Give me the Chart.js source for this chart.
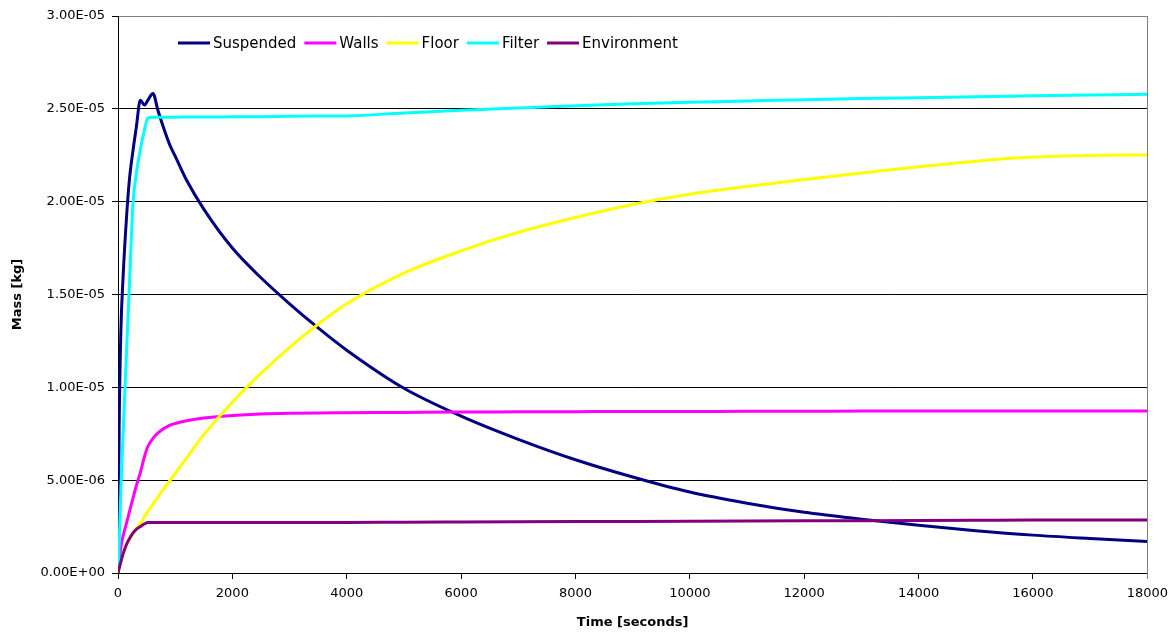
<!DOCTYPE html>
<html>
<head>
<meta charset="utf-8">
<script src="https://cdn.jsdelivr.net/npm/chart.js@4/dist/chart.umd.min.js"></script>
<style>
  html, body { margin: 0; padding: 0; background: #fff; }
  #wrap { width: 1175px; height: 634px; }
</style>
</head>
<body>
<div id="wrap"><canvas id="c" width="1175" height="634"></canvas></div>
<script>
// Time samples [s]
const times = [0, 20, 50, 90, 150, 200, 260, 320, 390, 466, 520, 611, 700, 900, 1000, 1200, 1500,
  2000, 2500, 3000, 3500, 4000, 5000, 6000, 7000, 8000, 9000, 10000, 11000, 12000,
  13000, 14000, 15000, 16000, 17000, 18000];

// Mass per compartment, in micrograms (1e-6 kg)
const suspended = [0, 7.8, 13.0, 16.0, 19.2, 21.2, 22.7, 24.0, 25.46, 25.2, 25.45, 25.83, 24.9, 23.1, 22.45, 21.15, 19.6,
  17.5, 15.9, 14.5, 13.2, 12.0, 9.95, 8.45, 7.2, 6.1, 5.17, 4.36, 3.76, 3.27,
  2.9, 2.57, 2.28, 2.04, 1.86, 1.70];
const walls = [0, 0.55, 1.4, 2.0, 2.7, 3.3, 4.0, 4.7, 5.4, 6.3, 6.8, 7.25, 7.55, 7.95, 8.05, 8.2, 8.35,
  8.48, 8.56, 8.6, 8.62, 8.63, 8.65, 8.67, 8.68, 8.69, 8.7, 8.7, 8.71, 8.71,
  8.72, 8.72, 8.72, 8.73, 8.73, 8.73];
const floor = [0, 0.25, 0.6, 1.0, 1.5, 1.8, 2.1, 2.4, 2.65, 3.05, 3.3, 3.7, 4.1, 4.95, 5.37, 6.2, 7.45,
  9.2, 10.75, 12.15, 13.4, 14.5, 16.15, 17.35, 18.35, 19.15, 19.85, 20.4, 20.82, 21.2,
  21.55, 21.88, 22.18, 22.4, 22.49, 22.52];
const filter = [0, 1.5, 4.5, 7.5, 12.0, 15.5, 19.8, 21.5, 22.8, 23.9, 24.5, 24.55, 24.55, 24.55, 24.55, 24.56, 24.56,
  24.57, 24.58, 24.6, 24.61, 24.62, 24.78, 24.92, 25.05, 25.17, 25.27, 25.35, 25.42, 25.49,
  25.55, 25.6, 25.65, 25.7, 25.74, 25.78];
const environment = [0, 0.25, 0.6, 1.05, 1.55, 1.85, 2.15, 2.35, 2.5, 2.65, 2.72, 2.72, 2.72, 2.72, 2.72, 2.72, 2.72,
  2.72, 2.72, 2.72, 2.72, 2.72, 2.74, 2.75, 2.76, 2.77, 2.78, 2.79, 2.8, 2.81,
  2.82, 2.83, 2.84, 2.85, 2.85, 2.86];

const seriesNames = ['Suspended', 'Walls', 'Floor', 'Filter', 'Environment'];
const seriesColors = ['#000080', '#FF00FF', '#FFFF00', '#00FFFF', '#800080'];
const seriesValues = [suspended, walls, floor, filter, environment];

const xTickStep = 2000;
const yTickStep = 5e-6;
const UNIT = 1e-6;

const FONT = 'DejaVu Sans';

function sciLabel(v) {
  if (Math.abs(v) < 1e-12) return '0.00E+00';
  let exp = Math.floor(Math.log10(Math.abs(v)) + 1e-9);
  let mant = v / Math.pow(10, exp);
  if (Math.round(mant * 100) >= 1000) { mant /= 10; exp += 1; }
  const sign = exp < 0 ? '-' : '+';
  const e = String(Math.abs(exp)).padStart(2, '0');
  return mant.toFixed(2) + 'E' + sign + e;
}

// Legend drawn inside the plot area, one row
const insideLegend = {
  id: 'insideLegend',
  afterDatasetsDraw(chart) {
    const ctx = chart.ctx;
    ctx.save();
    ctx.font = '15px "' + FONT + '"';
    ctx.textBaseline = 'middle';
    ctx.textAlign = 'left';
    let x = 178;
    const y = 43;
    chart.data.datasets.forEach(ds => {
      ctx.strokeStyle = ds.borderColor;
      ctx.lineWidth = 3;
      ctx.beginPath();
      ctx.moveTo(x, y);
      ctx.lineTo(x + 32, y);
      ctx.stroke();
      x += 35;
      ctx.fillStyle = '#000';
      ctx.fillText(ds.label, x, y + 1);
      x += ctx.measureText(ds.label).width + 8;
    });
    ctx.restore();
  }
};

// Grey frame on the right edge of the plot
const plotFrame = {
  id: 'plotFrame',
  afterDraw(chart) {
    const {ctx, chartArea: a} = chart;
    ctx.save();
    ctx.strokeStyle = '#808080';
    ctx.lineWidth = 1;
    ctx.beginPath();
    ctx.moveTo(Math.round(a.right) + 0.5, a.top);
    ctx.lineTo(Math.round(a.right) + 0.5, a.bottom + 6);
    ctx.stroke();
    ctx.restore();
  }
};

const datasets = seriesNames.map((name, i) => ({
  label: name,
  data: times.map((t, k) => ({x: t, y: seriesValues[i][k] * UNIT})),
  borderColor: seriesColors[i],
  backgroundColor: seriesColors[i],
  borderWidth: 3,
  pointRadius: 0,
  cubicInterpolationMode: 'monotone',
  fill: false,
  order: seriesNames.length - i
}));

new Chart(document.getElementById('c'), {
  type: 'line',
  data: { datasets },
  plugins: [insideLegend, plotFrame],
  options: {
    responsive: false,
    animation: false,
    devicePixelRatio: 1,
    layout: { padding: { top: 16, right: 26, left: 0, bottom: 0 } },
    plugins: { legend: { display: false }, tooltip: { enabled: false } },
    scales: {
      x: {
        type: 'linear',
        min: 0, max: 18000,
        afterFit(s) { s.height = 61; },
        ticks: {
          stepSize: xTickStep,
          color: '#000',
          padding: 7,
          maxRotation: 0,
          font: { family: FONT, size: 13 },
          callback: v => String(v)
        },
        grid: { drawOnChartArea: false, drawTicks: true, tickLength: 6, color: '#000', tickColor: '#000' },
        border: { color: '#000', width: 1 },
        title: {
          display: true,
          text: 'Time [seconds]',
          color: '#000',
          font: { family: FONT, size: 13, weight: 'bold' },
          padding: { top: 4, bottom: 4 }
        }
      },
      y: {
        type: 'linear',
        min: 0, max: 3e-5,
        afterFit(s) { s.width = 118; },
        ticks: {
          stepSize: yTickStep,
          color: '#000',
          padding: 7,
          font: { family: FONT, size: 13 },
          callback: v => sciLabel(v)
        },
        grid: {
          drawTicks: true,
          tickLength: 6,
          color: c => (c.tick && Math.abs(c.tick.value - 3e-5) < 1e-9) ? '#808080' : '#000',
          tickColor: '#000',
          lineWidth: 1
        },
        border: { color: '#000', width: 1 },
        title: {
          display: true,
          text: 'Mass [kg]',
          color: '#000',
          font: { family: FONT, size: 13, weight: 'bold' },
          padding: { top: 10, bottom: 10 }
        }
      }
    }
  }
});
</script>
</body>
</html>
